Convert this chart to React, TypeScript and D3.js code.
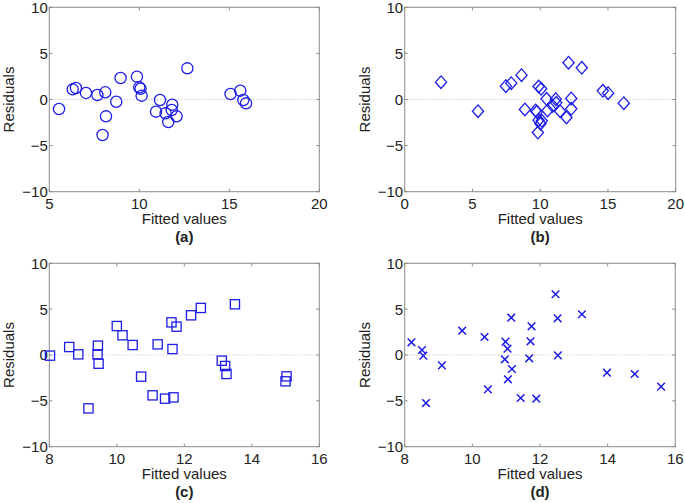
import * as d3 from 'd3'
import React, { useEffect, useRef } from "react";

// panel (a) - circles
const fittedA = [5.54, 6.30, 6.48, 7.04, 7.67, 8.11, 8.15, 7.96, 8.72, 8.96, 9.87, 10.0, 10.07, 10.13, 11.15, 10.93, 11.46, 11.61, 11.83, 11.80, 12.07, 12.67, 15.07, 15.61, 15.78, 15.93];
const residA = [-1.03, 1.10, 1.25, 0.71, 0.49, 0.78, -1.83, -3.85, -0.24, 2.33, 2.48, 1.32, 1.17, 0.42, -0.05, -1.32, -1.50, -2.44, -0.56, -1.14, -1.83, 3.38, 0.60, 0.96, -0.05, -0.42];

// panel (b) - diamonds
const fittedB = [2.68, 5.41, 7.47, 7.86, 8.62, 8.87, 9.66, 9.75, 9.88, 10.07, 9.88, 10.12, 9.83, 10.02, 10.47, 10.54, 10.93, 11.15, 11.18, 11.47, 11.94, 12.09, 12.29, 12.29, 13.07, 14.62, 15.01, 16.17];
const residB = [1.88, -1.27, 1.45, 1.77, 2.64, -1.08, -1.19, -1.34, 1.41, 1.16, -2.24, -2.31, -3.58, -2.64, 0.07, -1.19, -0.69, 0.04, -0.36, -1.27, -1.95, 3.99, 0.11, -1.01, 3.44, 0.94, 0.69, -0.40];

// panel (c) - squares
const fittedC = [8.02, 8.59, 8.86, 9.44, 9.43, 9.46, 9.16, 10.0, 10.17, 10.47, 10.72, 11.06, 11.21, 11.43, 11.62, 11.77, 11.65, 11.68, 12.20, 12.49, 13.50, 13.11, 13.21, 13.25, 15.03, 15.00];
const residC = [-0.07, 0.87, 0.07, 1.02, 0.07, -0.95, -5.82, 3.16, 2.15, 1.09, -2.36, -4.40, 1.16, -4.76, 3.56, 3.09, 0.65, -4.62, 4.33, 5.13, 5.53, -0.62, -1.20, -2.07, -2.33, -2.87];

// panel (d) - crosses
const fittedD = [8.20, 8.51, 8.55, 8.63, 9.10, 9.70, 10.36, 10.46, 10.98, 11.04, 10.96, 11.05, 11.17, 11.15, 11.43, 11.68, 11.72, 11.75, 11.89, 12.46, 12.52, 12.53, 13.24, 13.98, 14.80, 15.58];
const residD = [1.38, 0.55, -0.07, -5.24, -1.13, 2.65, 1.96, -3.75, 1.45, 0.69, -0.47, -2.65, -1.53, 4.07, -4.69, -0.36, 1.49, 3.13, -4.76, 6.62, 4.0, -0.04, 4.44, -1.93, -2.07, -3.45];

const residTicks = [-10, -5, 0, 5, 10];
const xTicksA = [5, 10, 15, 20];
const xTicksB = [0, 5, 10, 15, 20];
const xTicksCD = [8, 10, 12, 14, 16];

const BLUE = '#1c1ce6';
const FONT = '"Liberation Sans", Arial, Helvetica, sans-serif';

interface PanelProps {
    xs: number[]
    ys: number[]
    xDomain: [number, number]
    xTicks: number[]
    marker: 'circle' | 'diamond' | 'square' | 'cross'
    tag: string
    left: number
    top: number
    width: number
    height: number
}

const Panel: React.FC<PanelProps> = ({ xs, ys, xDomain, xTicks, marker, tag, left, top, width, height }) => {
    const ref = useRef<SVGGElement>(null);

    useEffect(() => {
        if (!ref.current) return;
        const g = d3.select(ref.current);
        g.selectAll('*').remove();
        g.attr('transform', `translate(${left}, ${top})`);

        const x = d3.scaleLinear().domain(xDomain).range([0, width]);
        const y = d3.scaleLinear().domain([-10, 10]).range([height, 0]);

        // zero reference line
        g.append('line')
            .attr('x1', 0).attr('x2', width)
            .attr('y1', y(0)).attr('y2', y(0))
            .attr('stroke', '#aaa')
            .attr('stroke-width', 0.8)
            .attr('stroke-dasharray', '1,2');

        // box
        g.append('rect')
            .attr('width', width).attr('height', height)
            .attr('fill', 'none')
            .attr('stroke', '#8a8a8a')
            .attr('stroke-width', 1);

        // inward ticks on all four sides
        const tl = 3;
        xTicks.forEach(t => {
            g.append('line').attr('x1', x(t)).attr('x2', x(t)).attr('y1', height).attr('y2', height - tl).attr('stroke', '#8a8a8a');
            g.append('line').attr('x1', x(t)).attr('x2', x(t)).attr('y1', 0).attr('y2', tl).attr('stroke', '#8a8a8a');
            g.append('text')
                .attr('x', x(t)).attr('y', height + 17)
                .attr('text-anchor', 'middle')
                .attr('font-family', FONT).attr('font-size', 15)
                .attr('fill', '#222')
                .text(t);
        });
        residTicks.forEach(t => {
            g.append('line').attr('x1', 0).attr('x2', tl).attr('y1', y(t)).attr('y2', y(t)).attr('stroke', '#8a8a8a');
            g.append('line').attr('x1', width).attr('x2', width - tl).attr('y1', y(t)).attr('y2', y(t)).attr('stroke', '#8a8a8a');
            g.append('text')
                .attr('x', -1.5).attr('y', y(t))
                .attr('dy', '0.36em')
                .attr('text-anchor', 'end')
                .attr('font-family', FONT).attr('font-size', 15)
                .attr('fill', '#222')
                .text(t < 0 ? `\u2212${-t}` : `${t}`);
        });

        g.append('text')
            .attr('x', width / 2).attr('y', height + 32.5)
            .attr('text-anchor', 'middle')
            .attr('font-family', FONT).attr('font-size', 15)
            .attr('fill', '#222')
            .text('Fitted values');

        g.append('text')
            .attr('transform', `translate(-35, ${height / 2}) rotate(-90)`)
            .attr('text-anchor', 'middle')
            .attr('font-family', FONT).attr('font-size', 15)
            .attr('fill', '#222')
            .text('Residuals');

        g.append('text')
            .attr('x', width / 2).attr('y', height + 50)
            .attr('text-anchor', 'middle')
            .attr('font-family', FONT).attr('font-size', 15)
            .attr('font-weight', 'bold')
            .attr('fill', '#222')
            .text(tag);

        const pts = xs.map((v, i) => [x(v), y(ys[i])]);
        const marks = g.append('g')
            .attr('fill', 'none')
            .attr('stroke', BLUE)
            .attr('stroke-width', 1.3);

        pts.forEach(([px, py]) => {
            if (marker === 'circle') {
                marks.append('circle').attr('cx', px).attr('cy', py).attr('r', 5.6);
            } else if (marker === 'diamond') {
                marks.append('path').attr('d', `M${px},${py - 6.3}L${px + 5.6},${py}L${px},${py + 6.3}L${px - 5.6},${py}Z`);
            } else if (marker === 'square') {
                marks.append('rect').attr('x', px - 4.6).attr('y', py - 4.6).attr('width', 9.2).attr('height', 9.2);
            } else {
                marks.append('path')
                    .attr('stroke-width', 1.5)
                    .attr('d', `M${px - 3.8},${py - 3.8}L${px + 3.8},${py + 3.8}M${px - 3.8},${py + 3.8}L${px + 3.8},${py - 3.8}`);
            }
        });
    }, [xs, ys, xDomain, xTicks, marker, tag, left, top, width, height]);

    return (<g ref={ref}></g>);
}

const App: React.FC = () => {
    return (
        <svg width={685} height={503} style={{ position: 'absolute', left: 0, top: 0, background: '#fff' }}>
            <Panel xs={fittedA} ys={residA} xDomain={[5, 20]} xTicks={xTicksA} marker="circle" tag="(a)"
                left={49.3} top={7.3} width={270} height={184.4} />
            <Panel xs={fittedB} ys={residB} xDomain={[0, 20]} xTicks={xTicksB} marker="diamond" tag="(b)"
                left={404.7} top={7.3} width={271} height={184.4} />
            <Panel xs={fittedC} ys={residC} xDomain={[8, 16]} xTicks={xTicksCD} marker="square" tag="(c)"
                left={49.3} top={263.3} width={270} height={183.4} />
            <Panel xs={fittedD} ys={residD} xDomain={[8, 16]} xTicks={xTicksCD} marker="cross" tag="(d)"
                left={404.7} top={263.3} width={270.6} height={183.4} />
        </svg>
    );
}

export default App;
